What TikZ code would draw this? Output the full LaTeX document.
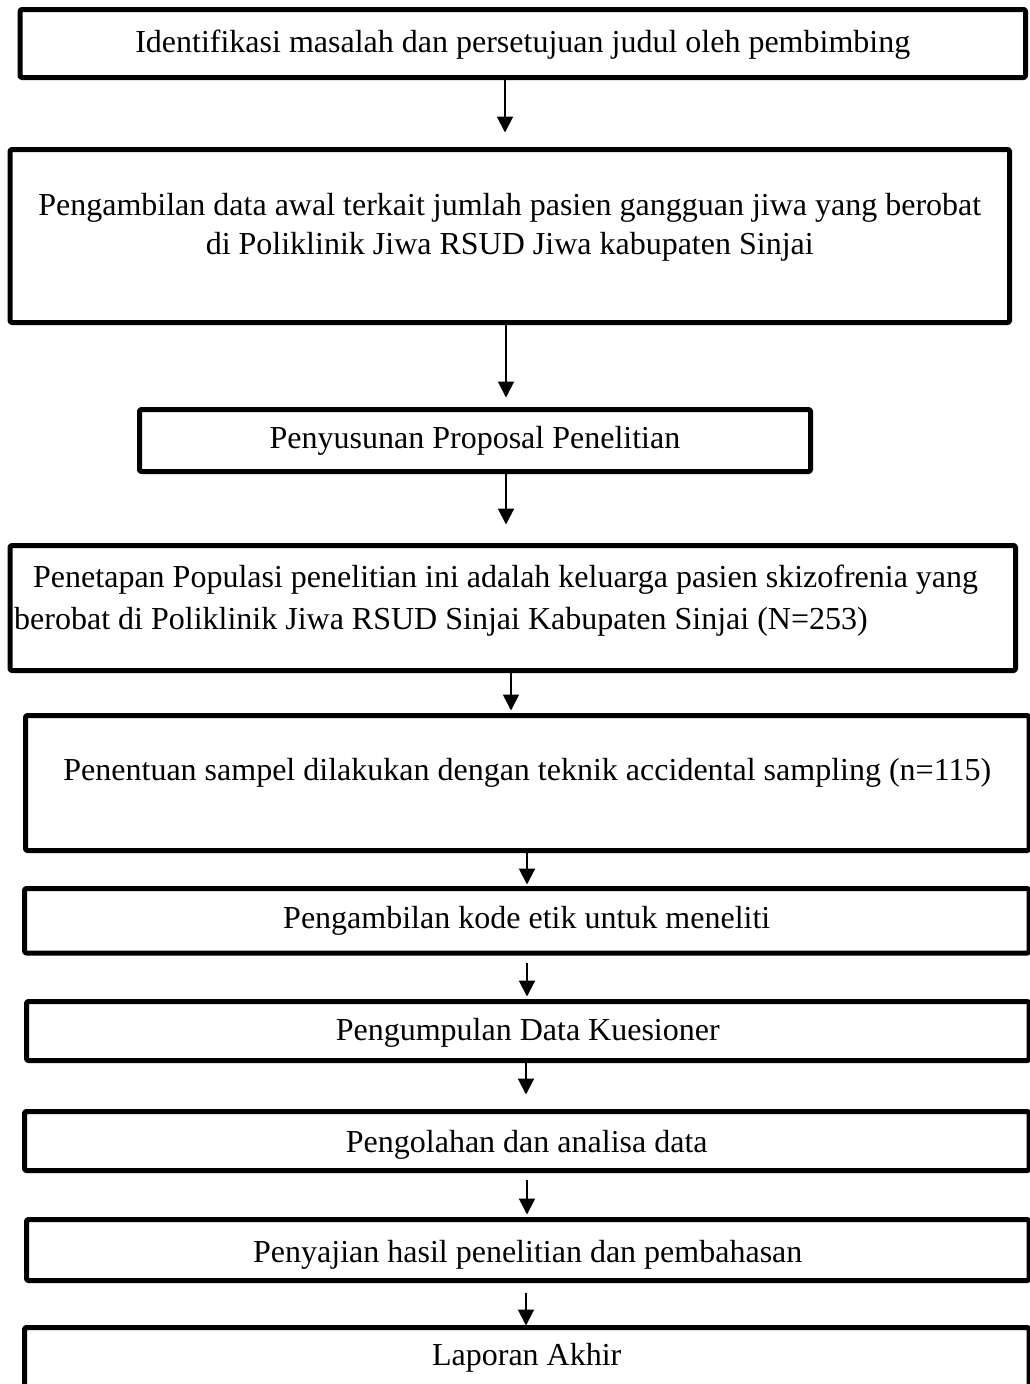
\documentclass[tikz,border=0pt]{standalone}
\usepackage{fontspec}
\setmainfont{Liberation Serif}
\usetikzlibrary{arrows.meta,calc}
\begin{document}
\begin{tikzpicture}[x=1pt,y=-1pt,
 box/.style={draw,line width=5pt,line join=round,rounded corners=1.5pt,inner sep=0pt},
 txt/.style={font=\fontsize{32}{40}\selectfont,inner sep=0pt,anchor=base},
 txtw/.style={txt,anchor=base west},
 arr/.style={line width=2pt,-{Triangle[width=16pt,length=16pt]}}]
\useasboundingbox (0,0) rectangle (1030,1384);
\clip (0,0) rectangle (1030,1384);
\node[box,minimum width=1005.5pt,minimum height=68pt] (b1) at (522.75,43.5) {};
\node[box,minimum width=999.5pt,minimum height=173pt] (b2) at (509.75,236) {};
\node[box,minimum width=671pt,minimum height=62pt] (b3) at (475,440.5) {};
\node[box,minimum width=1005.5pt,minimum height=125pt] (b4) at (512.75,608) {};
\node[box,minimum width=1003.5pt,minimum height=135pt] (b5) at (527.25,783) {};
\node[box,minimum width=1004.5pt,minimum height=64.5pt] (b6) at (526.75,920.75) {};
\node[box,minimum width=1002.5pt,minimum height=59pt] (b7) at (527.75,1031) {};
\node[box,minimum width=1004.5pt,minimum height=59pt] (b8) at (526.75,1141) {};
\node[box,minimum width=1002.5pt,minimum height=61pt] (b9) at (527.75,1250) {};
\node[box,minimum width=1004.5pt,minimum height=72.5pt] (b10) at (526.75,1363.75) {};

\node[txt] (t1) at (522.75,52) {Identifikasi masalah dan persetujuan judul oleh pembimbing};
\node[txt] (t2a) at (509.75,215) {Pengambilan data awal terkait jumlah pasien gangguan jiwa yang berobat};
\node[txt] (t2b) at (509.75,254) {di Poliklinik Jiwa RSUD Jiwa kabupaten Sinjai};
\node[txt] (t3) at (475,448) {Penyusunan Proposal Penelitian};
\node[txtw] (t4a) at (33,587) {Penetapan Populasi penelitian ini adalah keluarga pasien skizofrenia yang};
\node[txtw] (t4b) at (14,629) {berobat di Poliklinik Jiwa RSUD Sinjai Kabupaten Sinjai (N=253)};
\node[txt] (t5) at (527.25,780) {Penentuan sampel dilakukan dengan teknik accidental sampling (n=115)};
\node[txt] (t6) at (526.75,928) {Pengambilan kode etik untuk meneliti};
\node[txt] (t7) at (527.75,1040) {Pengumpulan Data Kuesioner};
\node[txt] (t8) at (526.75,1152) {Pengolahan dan analisa data};
\node[txt] (t9) at (527.75,1262) {Penyajian hasil penelitian dan pembahasan};
\node[txt] (t10) at (526.75,1365) {Laporan Akhir};

\draw[arr] ($(b1.south)+(-17.75,0)$) -- ($(b2.north)+(-4.75,-14.5)$);
\draw[arr] ($(b2.south)+(-3.75,0)$) -- ($(b3.north)+(31,-9.5)$);
\draw[arr] ($(b3.south)+(31,0)$) -- ($(b4.north)+(-6.75,-18.5)$);
\draw[arr] ($(b4.south)+(-1.75,0)$) -- ($(b5.north)+(-16.25,-2.5)$);
\draw[arr] ($(b5.south)+(-0.25,0)$) -- ($(b6.north)+(0.25,-1.5)$);
\draw[arr] ($(b6.south)+(0.25,7)$) -- ($(b7.north)+(-0.75,-2.5)$);
\draw[arr] ($(b7.south)+(-1.75,-2.5)$) -- ($(b8.north)+(-0.75,-14.5)$);
\draw[arr] ($(b8.south)+(0.25,6.5)$) -- ($(b9.north)+(-0.75,-2.5)$);
\draw[arr] ($(b9.south)+(-1.75,9.5)$) -- ($(b10.north)+(-0.75,0.5)$);
\end{tikzpicture}
\end{document}
